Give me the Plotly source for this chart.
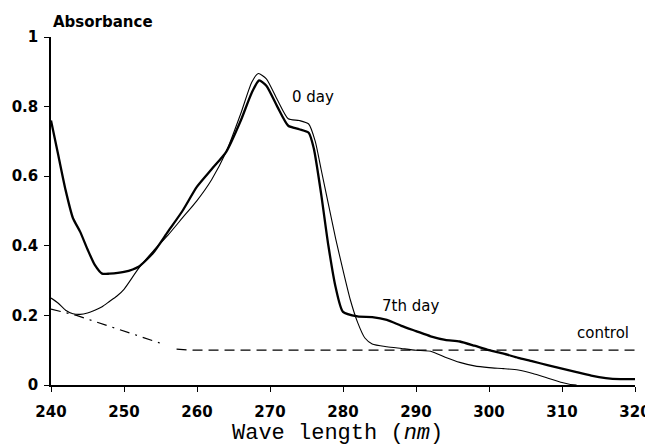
import plotly.graph_objects as go

# 7th day (thick line)
wl_7th = [240, 241, 242, 243, 244, 245, 246, 247, 248, 250, 252, 254, 256, 258, 260, 262, 264, 266,
          267.5, 268.5, 269.5, 271, 272.5, 274, 275.3, 276, 277, 278, 279, 280, 282, 284, 286, 288,
          290, 292, 294, 296, 298, 300, 302, 304, 306, 308, 310, 312, 314, 316, 318, 320]
abs_7th = [0.76, 0.66, 0.56, 0.48, 0.44, 0.39, 0.345, 0.32, 0.32, 0.325, 0.34, 0.38, 0.44, 0.50, 0.57,
           0.62, 0.67, 0.76, 0.84, 0.875, 0.86, 0.80, 0.745, 0.735, 0.725, 0.68, 0.55, 0.40, 0.28, 0.21,
           0.197, 0.195, 0.187, 0.17, 0.155, 0.14, 0.13, 0.125, 0.113, 0.10, 0.09, 0.078, 0.068, 0.057,
           0.047, 0.037, 0.027, 0.02, 0.017, 0.017]

# 0 day (thin line)
wl_0 = [240, 241, 242, 243, 244, 245, 246, 247, 248, 249, 250, 252, 254, 256, 258, 260, 262, 264, 266,
        267.5, 268.4, 269.5, 271, 272.5, 274, 275.3, 276.2, 277, 278, 279, 280, 281, 282, 283, 284, 286,
        288, 290, 292, 294, 296, 298, 300, 302, 304, 306, 308, 310, 311, 312]
abs_0 = [0.25, 0.235, 0.215, 0.205, 0.203, 0.207, 0.215, 0.225, 0.24, 0.255, 0.275, 0.335, 0.385, 0.43,
         0.48, 0.53, 0.59, 0.67, 0.78, 0.87, 0.895, 0.88, 0.82, 0.765, 0.76, 0.75, 0.70, 0.62, 0.52, 0.42,
         0.33, 0.245, 0.18, 0.135, 0.118, 0.11, 0.105, 0.10, 0.097, 0.08, 0.065, 0.055, 0.05, 0.047,
         0.043, 0.033, 0.02, 0.007, 0.002, 0.0]

# control: dash-dot part and dashed part
wl_ctrl_a = [240, 243.5, 255.3]
abs_ctrl_a = [0.218, 0.20, 0.118]
wl_ctrl_b = [257.2, 259.5, 320]
abs_ctrl_b = [0.103, 0.10, 0.10]

x_ticks = [240, 250, 260, 270, 280, 290, 300, 310, 320]
y_ticks = [0, 0.2, 0.4, 0.6, 0.8, 1]
y_tick_text = ["0", "0.2", "0.4", "0.6", "0.8", "1"]

fig = go.Figure()
fig.add_trace(go.Scatter(x=wl_ctrl_a, y=abs_ctrl_a, mode="lines",
                         line=dict(color="black", width=1.2, dash="10px,6px,2px,6px")))
fig.add_trace(go.Scatter(x=wl_ctrl_b, y=abs_ctrl_b, mode="lines",
                         line=dict(color="black", width=1.2, dash="10px,6px")))
fig.add_trace(go.Scatter(x=wl_0, y=abs_0, mode="lines",
                         line=dict(color="black", width=1.1, shape="spline", smoothing=0.6)))
fig.add_trace(go.Scatter(x=wl_7th, y=abs_7th, mode="lines",
                         line=dict(color="black", width=2.3, shape="spline", smoothing=0.6)))

tickfont = dict(family="DejaVu Sans", size=15, color="black", weight="bold")
fig.update_xaxes(range=[240, 320], tickvals=x_ticks, showline=True, linecolor="black", linewidth=1.5,
                 ticks="outside", ticklen=5, tickcolor="black", showgrid=False, zeroline=False,
                 tickfont=tickfont, ticklabelstandoff=7, automargin=False)
fig.update_yaxes(range=[0, 1], tickvals=y_ticks, ticktext=y_tick_text, showline=True, linecolor="black",
                 linewidth=1.5, ticks="outside", ticklen=5, tickcolor="black", showgrid=False,
                 zeroline=False, tickfont=tickfont, ticklabelstandoff=3, automargin=False)

annfont = dict(family="DejaVu Sans", size=15, color="black")
fig.add_annotation(x=0.0, y=1.043, xref="paper", yref="paper", text="Absorbance", showarrow=False,
                   xanchor="left", yanchor="middle",
                   font=dict(family="DejaVu Sans", size=15, color="black", weight="bold"))
fig.add_annotation(x=275.9, y=0.828, text="0 day", showarrow=False, font=annfont, xanchor="center")
fig.add_annotation(x=289.2, y=0.227, text="7th day", showarrow=False, font=annfont, xanchor="center")
fig.add_annotation(x=315.6, y=0.149, text="control", showarrow=False, font=annfont, xanchor="center")
fig.add_annotation(x=0.49, y=-0.181, xref="paper", yref="paper", text="Wave length (<i>nm</i>)",
                   showarrow=False, xanchor="center", yanchor="bottom",
                   font=dict(family="Liberation Mono", size=22, color="black"))

fig.update_layout(width=645, height=440, margin=dict(l=43, r=18, t=29, b=63, autoexpand=False),
                  plot_bgcolor="white", paper_bgcolor="white", showlegend=False)
fig.write_html("out.html")
